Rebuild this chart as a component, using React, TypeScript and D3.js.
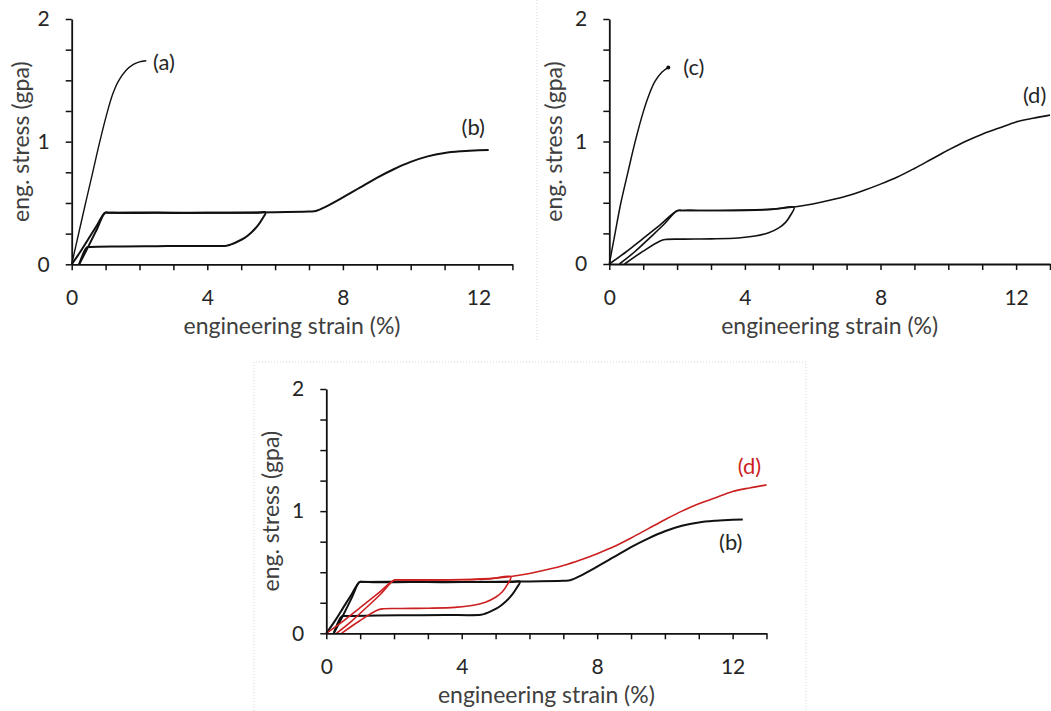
import React, { useRef, useEffect } from 'react';
import * as d3 from 'd3';

type Pt = [number, number];

// strain (%), stress (GPa)
const curveA: Pt[] = [
  [0, 0], [0.2, 0.245], [0.41, 0.5], [0.62, 0.75], [0.82, 0.99], [1.03, 1.22],
  [1.2, 1.38], [1.37, 1.49], [1.6, 1.58], [1.82, 1.63], [2.0, 1.65], [2.2, 1.66],
];

const curveC: Pt[] = [
  [0, 0], [0.17, 0.25], [0.334, 0.49], [0.55, 0.75], [0.757, 0.993], [1.0, 1.24],
  [1.17, 1.38], [1.347, 1.49], [1.55, 1.565], [1.74, 1.605],
];

// (b): first load / unload cycle, then reload to failure
const curveBCycle: Pt[] = [
  [0, 0], [0.25, 0.1], [0.5, 0.21], [0.75, 0.32], [0.98, 0.42], [1.08, 0.421],
  [1.5, 0.418], [2.5, 0.42], [3.5, 0.418], [4.5, 0.421], [5.5, 0.42], [5.72, 0.423],
  [5.62, 0.37], [5.5, 0.32], [5.3, 0.26], [5.1, 0.215], [4.87, 0.182],
  [4.7, 0.162], [4.57, 0.152], [3.5, 0.15], [2.5, 0.148], [1.5, 0.145],
  [0.55, 0.141], [0.45, 0.138], [0.22, 0],
];
const curveBReload: Pt[] = [
  [0.22, 0], [0.5, 0.15], [0.75, 0.29], [0.98, 0.42], [1.08, 0.421], [2, 0.422],
  [4, 0.42], [6, 0.425], [7.0, 0.431], [7.2, 0.434], [7.5, 0.47], [8, 0.545],
  [8.5, 0.625], [9, 0.705], [9.5, 0.775], [10, 0.835], [10.5, 0.88], [11, 0.908],
  [11.5, 0.922], [12, 0.93], [12.3, 0.932],
];

// (d): first load / unload cycle, then reload
const curveDCycle: Pt[] = [
  [0, 0], [0.5, 0.1], [1.0, 0.21], [1.5, 0.32], [2.0, 0.435], [2.15, 0.437],
  [3, 0.437], [4, 0.438], [4.8, 0.445], [5.45, 0.462], [5.35, 0.4], [5.2, 0.34],
  [5.0, 0.295], [4.7, 0.255], [4.3, 0.228], [3.8, 0.212], [3.0, 0.205],
  [2.2, 0.203], [1.65, 0.2], [1.5, 0.188], [1.0, 0.105], [0.45, 0],
];
const curveDReload: Pt[] = [
  [0.3, 0], [0.75, 0.1], [1.2, 0.215], [1.6, 0.32], [2.0, 0.435], [2.15, 0.437],
  [3, 0.437], [4, 0.44], [5, 0.452], [5.5, 0.467], [6, 0.49], [6.5, 0.52],
  [7, 0.555], [7.5, 0.6], [8, 0.652], [8.5, 0.71], [9, 0.78], [9.5, 0.855],
  [10, 0.93], [10.5, 1.0], [11, 1.06], [11.5, 1.11], [12, 1.16], [12.5, 1.19],
  [13, 1.215],
];

const xTicks = d3.range(0, 14, 1);
const xTickLabels = [0, 4, 8, 12];
const yTicks = d3.range(0, 2.01, 0.25);
const yTickLabels = [0, 1, 2];

const BLACK = '#111';
const RED = '#cc1f1f';
const FONT = 'Lato, "Open Sans", sans-serif';

const Panel = ({ x0, y0, top, unit, titleGap, series, notes }) => {
  const xRef = useRef(null);
  const yRef = useRef(null);
  const x = d3.scaleLinear().domain([0, 13]).range([x0, x0 + 13 * unit]);
  const y = d3.scaleLinear().domain([0, 2]).range([y0, top]);

  useEffect(() => {
    const gx = d3.select(xRef.current);
    gx.call(
      d3.axisBottom(x).tickValues(xTicks).tickSize(6).tickSizeOuter(0)
        .tickFormat((d) => (xTickLabels.includes(+d) ? String(d) : ''))
    );
    const gy = d3.select(yRef.current);
    gy.call(
      d3.axisLeft(y).tickValues(yTicks).tickSize(6).tickSizeOuter(0)
        .tickFormat((d) => (yTickLabels.includes(+d) ? String(d) : ''))
    );
    [gx, gy].forEach((g) => {
      g.attr('font-family', FONT).attr('font-size', 21);
      g.select('.domain').attr('stroke', BLACK).attr('stroke-width', 1.8);
      g.selectAll('.tick line').attr('stroke', BLACK).attr('stroke-width', 1.5);
      g.selectAll('text').attr('fill', '#262626');
    });
    gx.selectAll('text').attr('y', 26);
    gy.selectAll('text').attr('x', -22);
  }, []);

  const line = d3.line<Pt>()
    .x((d) => x(d[0]))
    .y((d) => y(d[1]))
    .curve(d3.curveCatmullRom.alpha(0.5));

  return (
    <g>
      {series.map((s, i) => (
        <path key={i} d={line(s.data)} fill="none" stroke={s.color}
          strokeWidth={s.width} strokeLinejoin="round" />
      ))}
      {series.filter((s) => s.endMark).map((s, i) => {
        const p = s.data[s.data.length - 1];
        return <circle key={i} cx={x(p[0])} cy={y(p[1])} r={2} fill={s.color} />;
      })}
      <g ref={xRef} transform={`translate(0,${y0})`} />
      <g ref={yRef} transform={`translate(${x0},0)`} />
      <text x={(x0 + x(13)) / 2} y={y0 + 70} textAnchor="middle"
        fontFamily={FONT} fontSize={23} fill="#404040">
        engineering strain (%)
      </text>
      <text transform={`translate(${x0 - titleGap},${(y0 + top) / 2}) rotate(-90)`}
        textAnchor="middle" fontFamily={FONT} fontSize={23} fill="#404040">
        eng. stress (gpa)
      </text>
      {notes.map((n, i) => (
        <text key={i} x={x(n.at[0])} y={y(n.at[1]) + 7} fontFamily={FONT}
          fontSize={22} fill={n.color}>
          {n.text}
        </text>
      ))}
    </g>
  );
};

export default function App() {
  return (
    <svg width={1051} height={711} style={{ position: 'absolute', left: 0, top: 0 }}
      xmlns="http://www.w3.org/2000/svg">
      <rect width={1051} height={711} fill="#fff" />
      <g stroke="#d6d6d6" strokeWidth={1} strokeDasharray="1,2" fill="none">
        <line x1={537} y1={0} x2={537} y2={342} />
        <path d="M254,711 V362 H806 V711" />
      </g>
      <Panel x0={71.7} y0={264.3} top={19} unit={33.9} titleGap={43}
        series={[
          { data: curveA, color: BLACK, width: 1.4 },
          { data: curveBCycle, color: BLACK, width: 2 },
          { data: curveBReload, color: BLACK, width: 2 },
        ]}
        notes={[
          { text: '(a)', at: [2.4, 1.64], color: '#262626' },
          { text: '(b)', at: [11.5, 1.11], color: '#262626' },
        ]} />
      <Panel x0={609.3} y0={264} top={19} unit={33.9} titleGap={47}
        series={[
          { data: curveC, color: BLACK, width: 1.5, endMark: true },
          { data: curveDCycle, color: BLACK, width: 1.6 },
          { data: curveDReload, color: BLACK, width: 1.6 },
        ]}
        notes={[
          { text: '(c)', at: [2.18, 1.6], color: '#262626' },
          { text: '(d)', at: [12.2, 1.37], color: '#262626' },
        ]} />
      <Panel x0={326.3} y0={633.3} top={389} unit={33.86} titleGap={47}
        series={[
          { data: curveBCycle, color: BLACK, width: 2 },
          { data: curveBReload, color: BLACK, width: 2 },
          { data: curveDCycle, color: RED, width: 1.6 },
          { data: curveDReload, color: RED, width: 1.6 },
        ]}
        notes={[
          { text: '(d)', at: [12.15, 1.36], color: RED },
          { text: '(b)', at: [11.6, 0.74], color: '#262626' },
        ]} />
    </svg>
  );
}
